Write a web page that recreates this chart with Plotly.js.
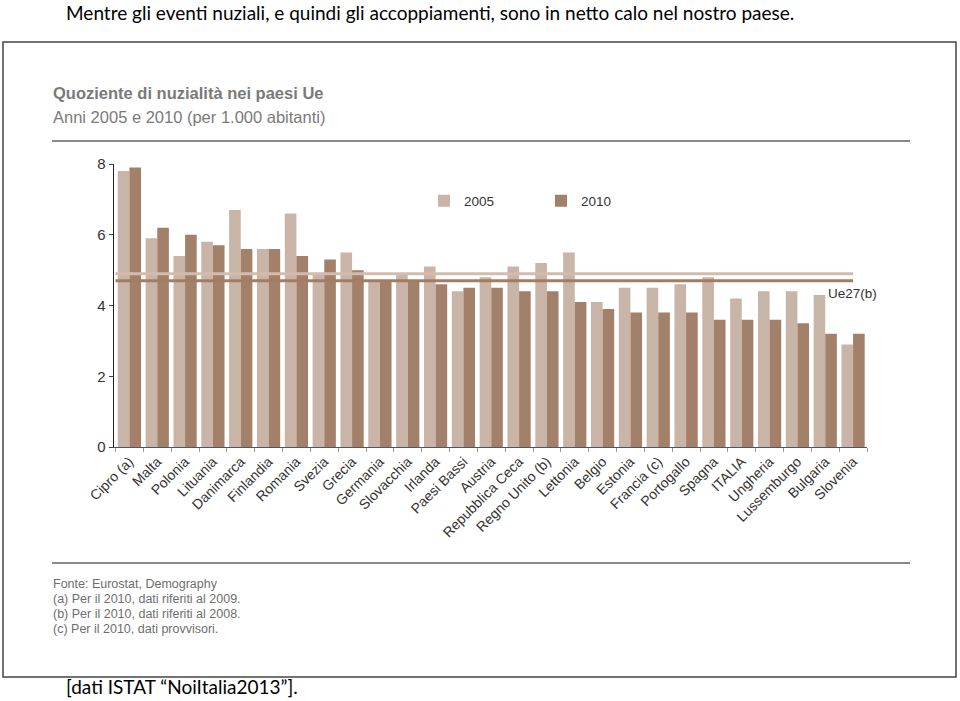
<!DOCTYPE html>
<html>
<head>
<meta charset="utf-8">
<script src="https://cdn.plot.ly/plotly-3.0.1.min.js"></script>
<style>
html,body{margin:0;padding:0;background:#fff;}
#chart{width:960px;height:701px;}
</style>
</head>
<body>
<div id="chart"></div>
<script>
// ---- data ----
var countries = ["Cipro (a)","Malta","Polonia","Lituania","Danimarca","Finlandia","Romania","Svezia","Grecia","Germania","Slovacchia","Irlanda","Paesi Bassi","Austria","Repubblica Ceca","Regno Unito (b)","Lettonia","Belgio","Estonia","Francia (c)","Portogallo","Spagna","ITALIA","Ungheria","Lussemburgo","Bulgaria","Slovenia"];
var values2005 = [7.8,5.9,5.4,5.8,6.7,5.6,6.6,4.9,5.5,4.7,4.9,5.1,4.4,4.8,5.1,5.2,5.5,4.1,4.5,4.5,4.6,4.8,4.2,4.4,4.4,4.3,2.9];
var values2010 = [7.9,6.2,6.0,5.7,5.6,5.6,5.4,5.3,5.0,4.7,4.7,4.6,4.5,4.5,4.4,4.4,4.1,3.9,3.8,3.8,3.8,3.6,3.6,3.6,3.5,3.2,3.2];
var seriesNames = ["2005","2010"];
var ue27Values = [4.9, 4.7];
var ue27Label = "Ue27(b)";
var yTicks = [0,2,4,6,8];

var pageTitle = "Mentre gli eventi nuziali, e quindi gli accoppiamenti, sono in netto calo nel nostro paese.";
var chartTitle = "Quoziente di nuzialità nei paesi Ue";
var chartSubtitle = "Anni 2005 e 2010 (per 1.000 abitanti)";
var footnotes = ["Fonte: Eurostat, Demography","(a) Per il 2010, dati riferiti al 2009.","(b) Per il 2010, dati riferiti al 2008.","(c) Per il 2010, dati provvisori."];
var sourceText = "[dati ISTAT \u201CNoiItalia2013\u201D].";

// ---- geometry helpers (pixel -> paper) ----
var L = 114, R = 867, T = 164, B = 447;
var W = R - L, H = B - T;
function px(x){ return (x - L) / W; }
function py(y){ return (B - y) / H; }

var colLight = "#c9b5a7", colDark = "#a3806a";
var lineLight = "#d3bcad", lineDark = "#a27d62";
var chartFont = "Liberation Sans, Arial, sans-serif";
var docFont = "Lato, Open Sans, sans-serif";

var traces = [
  {type:"bar", name:seriesNames[0], x:countries, y:values2005, marker:{color:colLight}, hoverinfo:"x+y"},
  {type:"bar", name:seriesNames[1], x:countries, y:values2010, marker:{color:colDark}, hoverinfo:"x+y"}
];

var shapes = [
  // outer frame
  {type:"rect", xref:"paper", yref:"paper", x0:px(3), x1:px(956), y0:py(42), y1:py(677), line:{color:"#444", width:1.5}, layer:"below"},
  // header / footer rules
  {type:"line", xref:"paper", yref:"paper", x0:px(52), x1:px(910), y0:py(141), y1:py(141), line:{color:"#8a8a8a", width:2}},
  {type:"line", xref:"paper", yref:"paper", x0:px(52), x1:px(910), y0:py(563), y1:py(563), line:{color:"#8a8a8a", width:2}},
  // Ue27 averages
  {type:"line", xref:"x", yref:"y", x0:-0.5, x1:countries.length-1, y0:ue27Values[0], y1:ue27Values[0], line:{color:lineLight, width:3}},
  {type:"line", xref:"x", yref:"y", x0:-0.5, x1:countries.length-1, y0:ue27Values[1], y1:ue27Values[1], line:{color:lineDark, width:3}}
];

var annotations = [
  {xref:"paper", yref:"paper", x:px(64), y:py(12), xanchor:"left", yanchor:"middle", showarrow:false, text:pageTitle, font:{family:docFont, size:19, color:"#000"}},
  {xref:"paper", yref:"paper", x:px(51), y:py(93), xanchor:"left", yanchor:"middle", showarrow:false, text:"<b>"+chartTitle+"</b>", font:{family:chartFont, size:16.5, color:"#7a7a7a"}},
  {xref:"paper", yref:"paper", x:px(51), y:py(117), xanchor:"left", yanchor:"middle", showarrow:false, text:chartSubtitle, font:{family:chartFont, size:16.5, color:"#7a7a7a"}},
  {xref:"paper", yref:"y", x:px(826), y:ue27Values[1], yshift:-13, xanchor:"left", yanchor:"middle", showarrow:false, text:ue27Label, font:{family:chartFont, size:13.5, color:"#333"}},
  {xref:"paper", yref:"paper", x:px(64), y:py(700), xanchor:"left", yanchor:"bottom", showarrow:false, text:sourceText, font:{family:docFont, size:19, color:"#000"}}
];
var fy = [584, 599, 614, 629];
for (var i = 0; i < footnotes.length; i++) {
  annotations.push({xref:"paper", yref:"paper", x:px(51), y:py(fy[i]), xanchor:"left", yanchor:"middle", showarrow:false, text:footnotes[i], font:{family:chartFont, size:12.5, color:"#6e6e6e"}});
}

var layout = {
  width:960, height:701,
  margin:{l:L, r:960-R, t:T, b:701-B, pad:0},
  paper_bgcolor:"#fff", plot_bgcolor:"#fff",
  barmode:"group", bargap:0.165, bargroupgap:0,
  showlegend:true,
  legend:{orientation:"h", x:px(424), y:py(201), xanchor:"left", yanchor:"middle", font:{family:chartFont, size:13.5, color:"#333"}, entrywidth:72, entrywidthmode:"pixels", bgcolor:"rgba(0,0,0,0)"},
  xaxis:{type:"category", automargin:false, showline:true, linecolor:"#555", linewidth:1, ticks:"outside", tickson:"boundaries", ticklen:4, tickcolor:"#999", tickangle:-45, tickfont:{family:chartFont, size:14, color:"#333"}, showgrid:false, zeroline:false, fixedrange:true},
  yaxis:{range:[0,8], automargin:false, tickvals:yTicks, showline:true, linecolor:"#222", linewidth:1.5, ticks:"outside", ticklen:4, tickcolor:"#444", tickfont:{family:chartFont, size:15, color:"#333"}, showgrid:false, zeroline:false, fixedrange:true},
  shapes:shapes,
  annotations:annotations
};

Plotly.newPlot("chart", traces, layout, {displayModeBar:false, staticPlot:true});
</script>
</body>
</html>
